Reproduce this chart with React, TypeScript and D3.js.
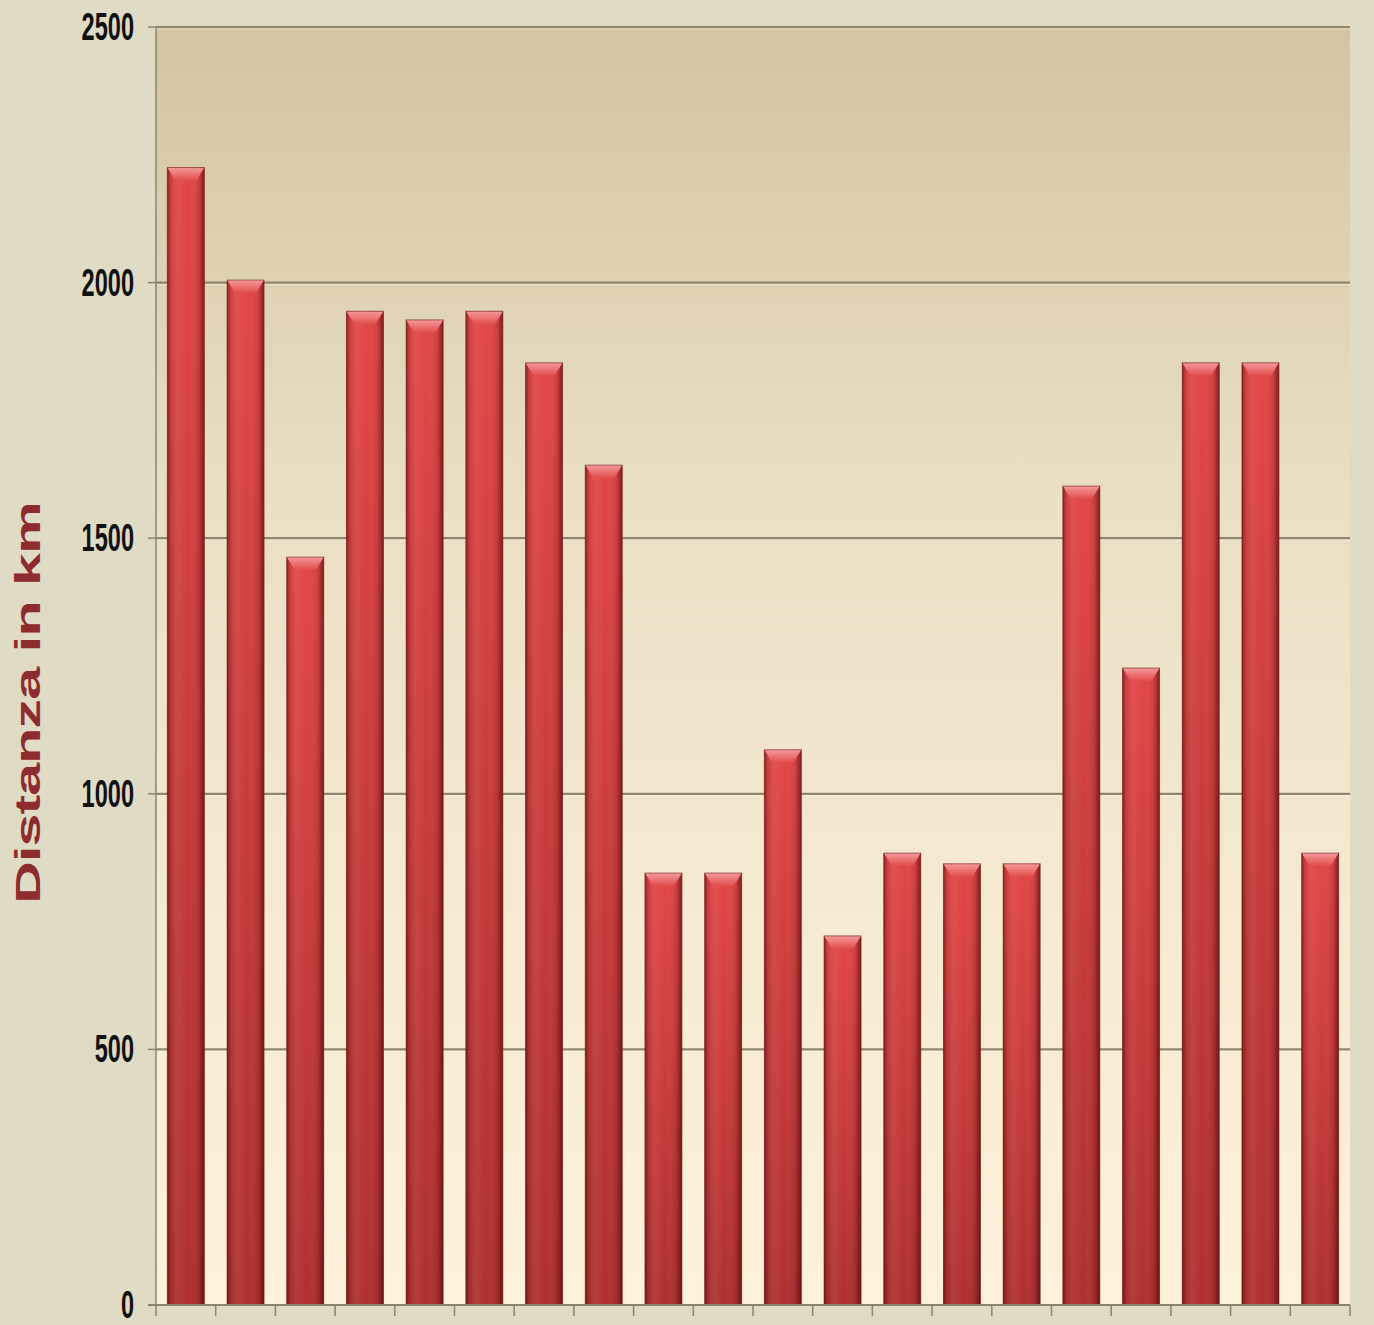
import * as d3 from "d3";

// distances, one bar per stage
const stages = [
  "1", "2", "3", "4", "5", "6", "7", "8", "9", "10",
  "11", "12", "13", "14", "15", "16", "17", "18", "19", "20",
];
const distances = [
  2225, 2005, 1463, 1944, 1927, 1944, 1843, 1643, 845, 845,
  1086, 722, 884, 863, 863, 1602, 1246, 1843, 1843, 884,
];
const yTicks = [0, 500, 1000, 1500, 2000, 2500];
const yLabel = "Distanza in km";

const W = 1374;
const H = 1325;
const margin = { top: 27, right: 24, bottom: 20, left: 156 };

export default function App() {
  const x = d3
    .scaleBand<string>()
    .domain(stages)
    .range([margin.left, W - margin.right])
    .paddingInner(0.38)
    .paddingOuter(0.19);

  const y = d3
    .scaleLinear()
    .domain([0, 2500])
    .range([H - margin.bottom, margin.top]);

  const step = x.step();
  const x0 = margin.left;
  const x1 = W - margin.right;
  const bw = x.bandwidth();

  return (
    <svg
      width={W}
      height={H}
      style={{ position: "absolute", left: 0, top: 0 }}
    >
      <defs>
        <linearGradient id="plotBg" x1="0" y1="0" x2="0" y2="1">
          <stop offset="0" stopColor="#d2c4a1" />
          <stop offset="0.35" stopColor="#e9dec2" />
          <stop offset="0.7" stopColor="#f6ebd1" />
          <stop offset="1" stopColor="#fdf1d9" />
        </linearGradient>
        <linearGradient id="barV" x1="0" y1="0" x2="0" y2="1">
          <stop offset="0" stopColor="#e24646" />
          <stop offset="1" stopColor="#ae2f2f" />
        </linearGradient>
        <linearGradient id="barH" x1="0" y1="0" x2="1" y2="0">
          <stop offset="0" stopColor="#3a0505" stopOpacity="0.55" />
          <stop offset="0.08" stopColor="#3a0505" stopOpacity="0.15" />
          <stop offset="0.3" stopColor="#ffffff" stopOpacity="0.06" />
          <stop offset="0.55" stopColor="#ffffff" stopOpacity="0" />
          <stop offset="0.85" stopColor="#3a0505" stopOpacity="0.12" />
          <stop offset="1" stopColor="#3a0505" stopOpacity="0.6" />
        </linearGradient>
        <linearGradient id="bevel" x1="0" y1="0" x2="0" y2="1">
          <stop offset="0" stopColor="#f49a9a" />
          <stop offset="1" stopColor="#e24c4c" />
        </linearGradient>
      </defs>

      <rect width={W} height={H} fill="#e0dbc4" />
      <rect
        x={x0}
        y={y(2500)}
        width={x1 - x0}
        height={y(0) - y(2500)}
        fill="url(#plotBg)"
      />

      {/* gridlines */}
      {yTicks
        .filter((t) => t > 0)
        .map((t) => (
          <g key={t}>
            <line
              x1={x0}
              x2={x1}
              y1={y(t)}
              y2={y(t)}
              stroke="#8f8770"
              strokeWidth={2.2}
            />
            <line
              x1={x0}
              x2={x1}
              y1={y(t) + 2}
              y2={y(t) + 2}
              stroke="#fff8e8"
              strokeOpacity={0.5}
              strokeWidth={1}
            />
          </g>
        ))}

      {/* bars */}
      {stages.map((s, i) => {
        const bx = x(s) ?? 0;
        const by = y(distances[i]);
        const bh = y(0) - by;
        const inset = 8;
        const bevelH = 13;
        return (
          <g key={s}>
            <rect x={bx} y={by} width={bw} height={bh} fill="url(#barV)" />
            <rect x={bx} y={by} width={bw} height={bh} fill="url(#barH)" />
            <path
              d={`M${bx},${by} L${bx + bw},${by} L${bx + bw - inset},${by + bevelH} L${bx + inset},${by + bevelH} Z`}
              fill="url(#bevel)"
            />
            <rect
              x={bx}
              y={by}
              width={bw}
              height={bh}
              fill="none"
              stroke="#6e1a1a"
              strokeOpacity={0.6}
              strokeWidth={1}
            />
          </g>
        );
      })}

      {/* axes */}
      <line
        x1={x0}
        x2={x0}
        y1={y(2500)}
        y2={y(0)}
        stroke="#8a8470"
        strokeWidth={1.5}
      />
      <line
        x1={x0 - 8}
        x2={x1}
        y1={y(0)}
        y2={y(0)}
        stroke="#8a8470"
        strokeWidth={2}
      />
      {yTicks.map((t) => (
        <line
          key={t}
          x1={x0 - 8}
          x2={x0}
          y1={y(t)}
          y2={y(t)}
          stroke="#8a8470"
          strokeWidth={1.5}
        />
      ))}
      {d3.range(stages.length + 1).map((i) => (
        <line
          key={i}
          x1={x0 + i * step}
          x2={x0 + i * step}
          y1={y(0)}
          y2={y(0) + 11}
          stroke="#8a8470"
          strokeWidth={1.5}
        />
      ))}

      {/* tick labels: tall, condensed digits */}
      {yTicks.map((t) => (
        <text
          key={t}
          transform={`translate(134, ${y(t)}) scale(0.62, 1)`}
          dy="0.34em"
          textAnchor="end"
          fontFamily="'Liberation Sans', Arial, sans-serif"
          fontWeight="bold"
          fontSize={38}
          fill="#111"
        >
          {t}
        </text>
      ))}

      <text
        transform={`translate(40, ${(y(0) + y(2500)) / 2 + 37}) rotate(-90) scale(1.64, 1)`}
        textAnchor="middle"
        fontFamily="'Liberation Sans', Arial, sans-serif"
        fontWeight="bold"
        fontSize={36}
        letterSpacing={-0.5}
        fill="#8e2b2e"
      >
        {yLabel}
      </text>
    </svg>
  );
}
